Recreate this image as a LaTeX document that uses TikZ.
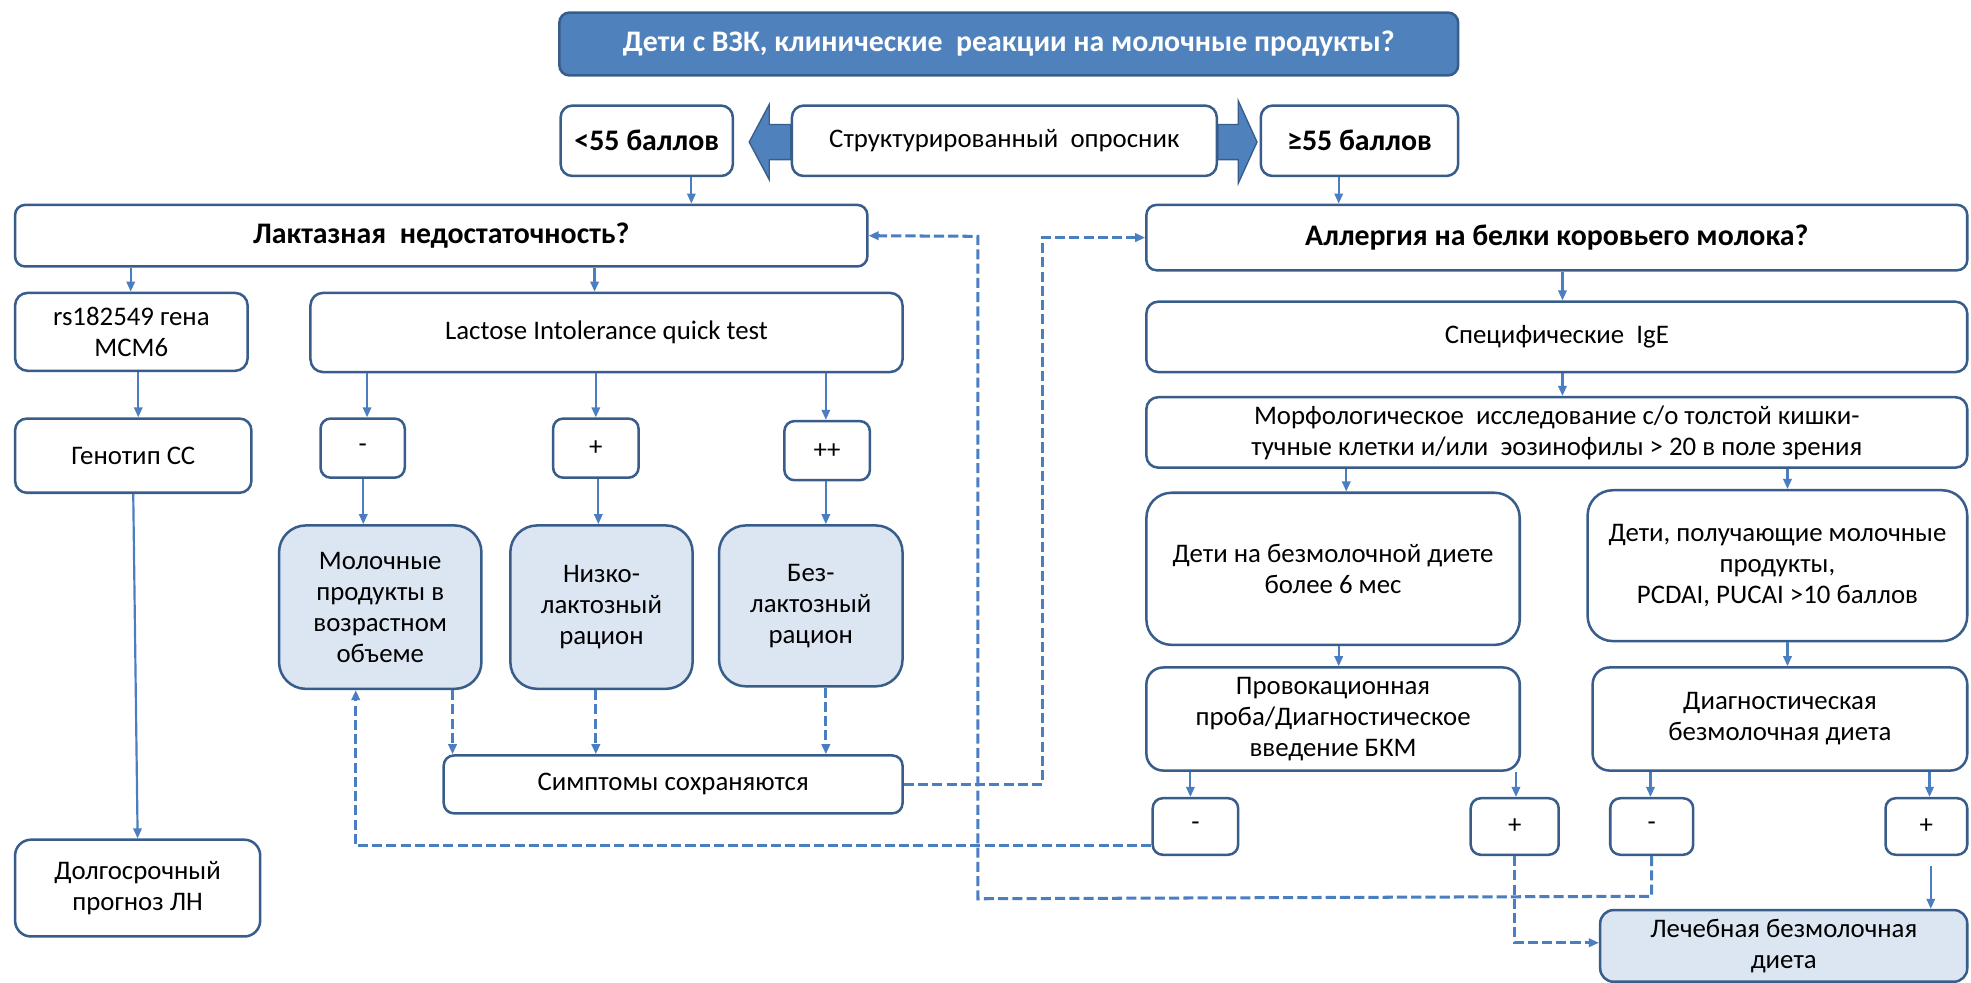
\documentclass[tikz,border=0pt]{standalone}
\usepackage{fontspec}
\setmainfont{Carlito}
\usetikzlibrary{arrows.meta}
\definecolor{bord}{RGB}{56,93,138}
\definecolor{lineblue}{RGB}{74,126,193}
\definecolor{topfill}{RGB}{79,129,189}
\definecolor{lightfill}{RGB}{220,230,242}
\newcommand{\bodyfont}{\fontsize{16}{18.5}\selectfont}
\newcommand{\headfont}{\fontsize{17.8}{20}\selectfont\bfseries}
\begin{document}
\begin{tikzpicture}[x=0.75pt,y=-0.75pt,
  box/.style={draw=bord,line width=1.5pt,fill=white,align=center,font=\bodyfont,inner sep=1pt},
  lbox/.style={box,fill=lightfill},
  hbox/.style={box,font=\headfont},
  wh/.style 2 args={minimum width=#1*0.75pt,minimum height=#2*0.75pt},
  conn/.style={draw=lineblue,line width=1.3pt,-{Triangle[length=6pt,width=5pt]}},
  dconn/.style={conn,line width=1.8pt,dash pattern=on 6pt off 2.5pt},
  blockarrow/.style={fill=topfill,draw=bord,line width=0.8pt,line join=miter}]
\useasboundingbox (0,0) rectangle (1568,782);

% header and questionnaire row
\node[box,fill=topfill,font=\headfont,text=white,wh={715}{50},rounded corners=6pt] (top) at (802.5,35) {Дети с ВЗК, клинические\ \ реакции на молочные продукты?};
\node[hbox,wh={137}{56},rounded corners=7pt] (lt55) at (514.5,112) {<55 баллов};
\node[box,wh={338}{56},rounded corners=7pt] (opros) at (799,112) {Структурированный\ \ опросник};
\node[hbox,wh={157}{56},rounded corners=7pt] (ge55) at (1081.5,112) {≥55 баллов};
\draw[blockarrow] (596,113) -- (612,83) -- (612,99) -- (629,99) -- (629,127) -- (612,127) -- (612,143) -- cycle;
\draw[blockarrow] (1000,113) -- (985,80) -- (985,99) -- (969,99) -- (969,127) -- (985,127) -- (985,146) -- cycle;

% the two questions
\node[hbox,wh={678}{49},rounded corners=6pt] (lact) at (351,187.5) {Лактазная\ \ недостаточность?};
\node[hbox,wh={653}{52},rounded corners=6pt] (allerg) at (1238.5,189) {Аллергия на белки коровьего молока?};

% lactase branch
\node[box,wh={185}{62},rounded corners=7.5pt] (rs) at (104.5,264) {rs182549 гена\\MCM6};
\node[box,wh={471}{63},rounded corners=7.5pt] (lqt) at (482.5,264.5) {Lactose Intolerance quick test};
\node[box,wh={188}{59},rounded corners=7pt] (gen) at (106,362.5) {Генотип СС};
\node[box,wh={195}{77},rounded corners=9.5pt] (dolgo) at (109.5,706.5) {Долгосрочный\\прогноз ЛН};
\node[box,wh={67}{47},rounded corners=6pt] (mA) at (288.5,356.5) {-};
\node[box,wh={68}{47},rounded corners=6pt] (pA) at (474,356.5) {+};
\node[box,wh={68}{47},rounded corners=6pt] (ppA) at (658,358.5) {++};
\node[lbox,wh={161}{130},rounded corners=16pt] (milk) at (302.5,483) {Молочные\\продукты в\\возрастном\\объеме};
\node[lbox,wh={145}{130},rounded corners=16pt] (low) at (478.5,483) {Низко-\\лактозный\\рацион};
\node[lbox,wh={146}{128},rounded corners=16pt] (free) at (645,482) {Без-\\лактозный\\рацион};
\node[box,wh={365}{46},rounded corners=6pt] (symp) at (535.5,624) {Симптомы сохраняются};

% cow's milk allergy branch
\node[box,wh={653}{56},rounded corners=7pt] (ige) at (1238.5,268) {Специфические\ \ IgE};
\node[box,wh={653}{56},rounded corners=7pt] (morph) at (1238.5,344) {Морфологическое\ \ исследование с/о толстой кишки-\\тучные клетки и/или\ \ эозинофилы > 20 в поле зрения};
\node[box,wh={297}{121},rounded corners=15pt] (nodiet) at (1060.5,452.5) {Дети на безмолочной диете\\более 6 мес};
\node[box,wh={302}{120},rounded corners=15pt] (getting) at (1414,450) {Дети, получающие молочные\\продукты,\\PCDAI, PUCAI >10 баллов};
\node[box,wh={297}{82},rounded corners=10pt] (provoc) at (1060.5,572) {Провокационная\\проба/Диагностическое\\введение БКМ};
\node[box,wh={298}{82},rounded corners=10pt] (diag) at (1416,572) {Диагностическая\\безмолочная диета};
\node[box,wh={68}{45},rounded corners=6pt] (mB) at (951,657.5) {-};
\node[box,wh={70}{45},rounded corners=6pt] (pB) at (1205,657.5) {+};
\node[box,wh={66}{45},rounded corners=6pt] (mC) at (1314,657.5) {-};
\node[box,wh={65}{45},rounded corners=6pt] (pC) at (1532.5,657.5) {+};
\node[lbox,wh={292}{57},rounded corners=8pt] (treat) at (1419,752.5) {Лечебная безмолочная\\диета};

% solid connectors
\draw[conn] (lt55.south -| 550,0) -- (lact.north -| 550,0);
\draw[conn] (ge55.south -| 1065,0) -- (allerg.north -| 1065,0);
\draw[conn] (lact.south -| 104,0) -- (rs.north -| 104,0);
\draw[conn] (lact.south -| 473,0) -- (lqt.north -| 473,0);
\draw[conn] (rs.south -| 110,0) -- (gen.north -| 110,0);
\draw[conn] (gen.south) -- (dolgo.north);
\draw[conn] (lqt.south -| 292,0) -- (mA.north -| 292,0);
\draw[conn] (lqt.south -| 474,0) -- (pA.north -| 474,0);
\draw[conn] (lqt.south -| 657,0) -- (ppA.north -| 657,0);
\draw[conn] (mA.south -| 289,0) -- (milk.north -| 289,0);
\draw[conn] (pA.south -| 476,0) -- (low.north -| 476,0);
\draw[conn] (ppA.south -| 657,0) -- (free.north -| 657,0);
\draw[conn] (allerg.south -| 1243,0) -- (ige.north -| 1243,0);
\draw[conn] (ige.south -| 1243,0) -- (morph.north -| 1243,0);
\draw[conn] (morph.south -| 1071,0) -- (nodiet.north -| 1071,0);
\draw[conn] (morph.south -| 1422,0) -- (getting.north -| 1422,0);
\draw[conn] (nodiet.south -| 1065,0) -- (provoc.north -| 1065,0);
\draw[conn] (getting.south -| 1422,0) -- (diag.north -| 1422,0);
\draw[conn] (provoc.south -| 947,0) -- (mB.north -| 947,0);
\draw[conn] (provoc.south -| 1206,0) -- (pB.north -| 1206,0);
\draw[conn] (diag.south -| 1313,0) -- (mC.north -| 1313,0);
\draw[conn] (diag.south -| 1535,0) -- (pC.north -| 1535,0);
\draw[conn] ([yshift=-6pt]pC.south -| 1536,0) -- (treat.north -| 1536,0);

% dashed feedback connectors
\draw[dconn] (milk.south -| 360,0) -- (symp.north -| 360,0);
\draw[dconn] (low.south -| 474,0) -- (symp.north -| 474,0);
\draw[dconn] (free.south -| 657,0) -- (symp.north -| 657,0);
\draw[dconn] (symp.east) -- (829,624) -- (829,189) -- (allerg.west);
\draw[dconn] (mC.south) -- (1314,713) -- (778,715) -- (778,188) -- (lact.east);
\draw[dconn] (mB.west |- 0,673) -- (283,673) -- (milk.south -| 283,0);
\draw[dconn] (pB.south) -- (1205,750) -- (treat.west |- 0,750);
\end{tikzpicture}
\end{document}
